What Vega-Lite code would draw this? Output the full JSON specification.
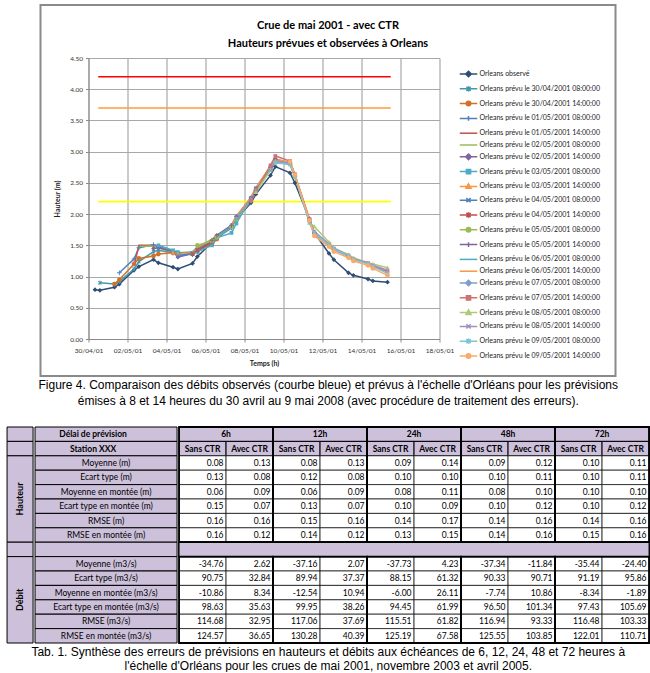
{
"$schema": "https://vega.github.io/schema/vega-lite/v6.json",
"padding": {"left": 6, "top": 4, "right": 0, "bottom": 0},
"background": "white",
"spacing": 2,
"center": true,
"config": {"view": {"stroke": null}, "font": "Lato", "locale": {"number": {"decimal": ".", "thousands": ",", "grouping": [3], "currency": ["", ""], "minus": "-"}}},
"title": {"text": ["Tab. 1. Synthèse des erreurs de prévisions en hauteurs et débits aux échéances de 6, 12, 24, 48 et 72 heures à", "l'échelle d'Orléans pour les crues de mai 2001, novembre 2003 et avril 2005."], "orient": "bottom", "anchor": "middle", "font": "Liberation Sans", "fontSize": 12, "fontWeight": "normal", "lineHeight": 14, "offset": 3, "color": "black"},
"datasets": {
"seuils": [
{"n":"4.20","t":"2001-04-30T12:00","h":4.2},{"n":"4.20","t":"2001-05-15T12:00","h":4.2},
{"n":"3.70","t":"2001-04-30T12:00","h":3.7},{"n":"3.70","t":"2001-05-15T12:00","h":3.7},
{"n":"2.20","t":"2001-04-30T12:00","h":2.2},{"n":"2.20","t":"2001-05-15T12:00","h":2.2}],
"series": [
{"s":"Orleans observé","t":"2001-04-30T08:00","h":0.79},{"s":"Orleans observé","t":"2001-04-30T14:00","h":0.78},
{"s":"Orleans observé","t":"2001-05-01T08:00","h":0.83},{"s":"Orleans observé","t":"2001-05-01T14:00","h":0.88},
{"s":"Orleans observé","t":"2001-05-02T08:00","h":1.10},{"s":"Orleans observé","t":"2001-05-02T14:00","h":1.16},
{"s":"Orleans observé","t":"2001-05-03T08:00","h":1.27},{"s":"Orleans observé","t":"2001-05-03T14:00","h":1.22},
{"s":"Orleans observé","t":"2001-05-04T08:00","h":1.15},{"s":"Orleans observé","t":"2001-05-04T14:00","h":1.12},
{"s":"Orleans observé","t":"2001-05-05T08:00","h":1.21},{"s":"Orleans observé","t":"2001-05-05T14:00","h":1.32},
{"s":"Orleans observé","t":"2001-05-06T08:00","h":1.55},{"s":"Orleans observé","t":"2001-05-06T14:00","h":1.62},
{"s":"Orleans observé","t":"2001-05-07T08:00","h":1.80},{"s":"Orleans observé","t":"2001-05-07T14:00","h":1.92},
{"s":"Orleans observé","t":"2001-05-08T08:00","h":2.18},{"s":"Orleans observé","t":"2001-05-08T14:00","h":2.32},
{"s":"Orleans observé","t":"2001-05-09T08:00","h":2.62},{"s":"Orleans observé","t":"2001-05-09T14:00","h":2.76},
{"s":"Orleans observé","t":"2001-05-10T08:00","h":2.66},{"s":"Orleans observé","t":"2001-05-10T14:00","h":2.50},
{"s":"Orleans observé","t":"2001-05-11T08:00","h":1.92},{"s":"Orleans observé","t":"2001-05-11T14:00","h":1.70},
{"s":"Orleans observé","t":"2001-05-12T08:00","h":1.37},{"s":"Orleans observé","t":"2001-05-12T14:00","h":1.27},
{"s":"Orleans observé","t":"2001-05-13T08:00","h":1.06},{"s":"Orleans observé","t":"2001-05-13T14:00","h":1.02},
{"s":"Orleans observé","t":"2001-05-14T08:00","h":0.96},{"s":"Orleans observé","t":"2001-05-14T14:00","h":0.93},
{"s":"Orleans observé","t":"2001-05-15T08:00","h":0.91},

{"s":"30/04/2001 08:00:00","t":"2001-04-30T14:00","h":0.90},{"s":"30/04/2001 08:00:00","t":"2001-05-01T08:00","h":0.88},
{"s":"30/04/2001 08:00:00","t":"2001-05-01T14:00","h":0.92},{"s":"30/04/2001 08:00:00","t":"2001-05-02T08:00","h":1.12},
{"s":"30/04/2001 08:00:00","t":"2001-05-02T14:00","h":1.24},{"s":"30/04/2001 08:00:00","t":"2001-05-03T08:00","h":1.40},
{"s":"30/04/2001 08:00:00","t":"2001-05-03T14:00","h":1.42},{"s":"30/04/2001 08:00:00","t":"2001-05-04T08:00","h":1.38},
{"s":"30/04/2001 08:00:00","t":"2001-05-04T14:00","h":1.35},{"s":"30/04/2001 08:00:00","t":"2001-05-05T08:00","h":1.37},
{"s":"30/04/2001 08:00:00","t":"2001-05-05T14:00","h":1.42},{"s":"30/04/2001 08:00:00","t":"2001-05-06T08:00","h":1.55},

{"s":"30/04/2001 14:00:00","t":"2001-05-01T08:00","h":0.88},{"s":"30/04/2001 14:00:00","t":"2001-05-01T14:00","h":0.95},
{"s":"30/04/2001 14:00:00","t":"2001-05-02T08:00","h":1.20},{"s":"30/04/2001 14:00:00","t":"2001-05-02T14:00","h":1.29},
{"s":"30/04/2001 14:00:00","t":"2001-05-03T08:00","h":1.33},{"s":"30/04/2001 14:00:00","t":"2001-05-03T14:00","h":1.36},
{"s":"30/04/2001 14:00:00","t":"2001-05-04T08:00","h":1.38},{"s":"30/04/2001 14:00:00","t":"2001-05-04T14:00","h":1.37},
{"s":"30/04/2001 14:00:00","t":"2001-05-05T08:00","h":1.36},{"s":"30/04/2001 14:00:00","t":"2001-05-05T14:00","h":1.40},
{"s":"30/04/2001 14:00:00","t":"2001-05-06T08:00","h":1.52},{"s":"30/04/2001 14:00:00","t":"2001-05-06T14:00","h":1.60},

{"s":"01/05/2001 08:00:00","t":"2001-05-01T14:00","h":1.06},{"s":"01/05/2001 08:00:00","t":"2001-05-02T08:00","h":1.28},
{"s":"01/05/2001 08:00:00","t":"2001-05-02T14:00","h":1.46},{"s":"01/05/2001 08:00:00","t":"2001-05-03T08:00","h":1.51},
{"s":"01/05/2001 08:00:00","t":"2001-05-03T14:00","h":1.48},{"s":"01/05/2001 08:00:00","t":"2001-05-04T08:00","h":1.40},
{"s":"01/05/2001 08:00:00","t":"2001-05-04T14:00","h":1.38},{"s":"01/05/2001 08:00:00","t":"2001-05-05T08:00","h":1.35},
{"s":"01/05/2001 08:00:00","t":"2001-05-05T14:00","h":1.42},{"s":"01/05/2001 08:00:00","t":"2001-05-06T08:00","h":1.55},
{"s":"01/05/2001 08:00:00","t":"2001-05-06T14:00","h":1.62},{"s":"01/05/2001 08:00:00","t":"2001-05-07T08:00","h":1.78},

{"s":"01/05/2001 14:00:00","t":"2001-05-02T08:00","h":1.17},{"s":"01/05/2001 14:00:00","t":"2001-05-02T14:00","h":1.50},
{"s":"01/05/2001 14:00:00","t":"2001-05-03T08:00","h":1.50},{"s":"01/05/2001 14:00:00","t":"2001-05-03T14:00","h":1.47},
{"s":"01/05/2001 14:00:00","t":"2001-05-04T08:00","h":1.40},{"s":"01/05/2001 14:00:00","t":"2001-05-04T14:00","h":1.37},
{"s":"01/05/2001 14:00:00","t":"2001-05-05T08:00","h":1.38},{"s":"01/05/2001 14:00:00","t":"2001-05-05T14:00","h":1.45},
{"s":"01/05/2001 14:00:00","t":"2001-05-06T08:00","h":1.58},{"s":"01/05/2001 14:00:00","t":"2001-05-06T14:00","h":1.65},
{"s":"01/05/2001 14:00:00","t":"2001-05-07T08:00","h":1.80},{"s":"01/05/2001 14:00:00","t":"2001-05-07T14:00","h":1.92},

{"s":"02/05/2001 08:00:00","t":"2001-05-02T14:00","h":1.48},{"s":"02/05/2001 08:00:00","t":"2001-05-03T08:00","h":1.49},
{"s":"02/05/2001 08:00:00","t":"2001-05-03T14:00","h":1.46},{"s":"02/05/2001 08:00:00","t":"2001-05-04T08:00","h":1.39},
{"s":"02/05/2001 08:00:00","t":"2001-05-04T14:00","h":1.37},{"s":"02/05/2001 08:00:00","t":"2001-05-05T08:00","h":1.40},
{"s":"02/05/2001 08:00:00","t":"2001-05-05T14:00","h":1.47},{"s":"02/05/2001 08:00:00","t":"2001-05-06T08:00","h":1.60},
{"s":"02/05/2001 08:00:00","t":"2001-05-06T14:00","h":1.66},{"s":"02/05/2001 08:00:00","t":"2001-05-07T08:00","h":1.82},
{"s":"02/05/2001 08:00:00","t":"2001-05-07T14:00","h":1.95},{"s":"02/05/2001 08:00:00","t":"2001-05-08T08:00","h":2.22},

{"s":"02/05/2001 14:00:00","t":"2001-05-03T08:00","h":1.45},{"s":"02/05/2001 14:00:00","t":"2001-05-03T14:00","h":1.46},
{"s":"02/05/2001 14:00:00","t":"2001-05-04T08:00","h":1.40},{"s":"02/05/2001 14:00:00","t":"2001-05-04T14:00","h":1.31},
{"s":"02/05/2001 14:00:00","t":"2001-05-05T08:00","h":1.37},{"s":"02/05/2001 14:00:00","t":"2001-05-05T14:00","h":1.45},
{"s":"02/05/2001 14:00:00","t":"2001-05-06T08:00","h":1.57},{"s":"02/05/2001 14:00:00","t":"2001-05-06T14:00","h":1.64},
{"s":"02/05/2001 14:00:00","t":"2001-05-07T08:00","h":1.80},{"s":"02/05/2001 14:00:00","t":"2001-05-07T14:00","h":1.93},
{"s":"02/05/2001 14:00:00","t":"2001-05-08T08:00","h":2.20},{"s":"02/05/2001 14:00:00","t":"2001-05-08T14:00","h":2.35},

{"s":"03/05/2001 08:00:00","t":"2001-05-03T14:00","h":1.50},{"s":"03/05/2001 08:00:00","t":"2001-05-04T08:00","h":1.42},
{"s":"03/05/2001 08:00:00","t":"2001-05-04T14:00","h":1.39},{"s":"03/05/2001 08:00:00","t":"2001-05-05T08:00","h":1.38},
{"s":"03/05/2001 08:00:00","t":"2001-05-05T14:00","h":1.40},{"s":"03/05/2001 08:00:00","t":"2001-05-06T08:00","h":1.50},
{"s":"03/05/2001 08:00:00","t":"2001-05-06T14:00","h":1.62},{"s":"03/05/2001 08:00:00","t":"2001-05-07T08:00","h":1.70},
{"s":"03/05/2001 08:00:00","t":"2001-05-07T14:00","h":1.85},{"s":"03/05/2001 08:00:00","t":"2001-05-08T08:00","h":2.25},
{"s":"03/05/2001 08:00:00","t":"2001-05-08T14:00","h":2.40},{"s":"03/05/2001 08:00:00","t":"2001-05-09T08:00","h":2.72},

{"s":"03/05/2001 14:00:00","t":"2001-05-04T08:00","h":1.38},{"s":"03/05/2001 14:00:00","t":"2001-05-04T14:00","h":1.36},
{"s":"03/05/2001 14:00:00","t":"2001-05-05T08:00","h":1.38},{"s":"03/05/2001 14:00:00","t":"2001-05-05T14:00","h":1.45},
{"s":"03/05/2001 14:00:00","t":"2001-05-06T08:00","h":1.58},{"s":"03/05/2001 14:00:00","t":"2001-05-06T14:00","h":1.65},
{"s":"03/05/2001 14:00:00","t":"2001-05-07T08:00","h":1.80},{"s":"03/05/2001 14:00:00","t":"2001-05-07T14:00","h":1.95},
{"s":"03/05/2001 14:00:00","t":"2001-05-08T08:00","h":2.25},{"s":"03/05/2001 14:00:00","t":"2001-05-08T14:00","h":2.40},
{"s":"03/05/2001 14:00:00","t":"2001-05-09T08:00","h":2.75},{"s":"03/05/2001 14:00:00","t":"2001-05-09T14:00","h":2.86},

{"s":"04/05/2001 08:00:00","t":"2001-05-04T14:00","h":1.33},{"s":"04/05/2001 08:00:00","t":"2001-05-05T08:00","h":1.37},
{"s":"04/05/2001 08:00:00","t":"2001-05-05T14:00","h":1.43},{"s":"04/05/2001 08:00:00","t":"2001-05-06T08:00","h":1.57},
{"s":"04/05/2001 08:00:00","t":"2001-05-06T14:00","h":1.64},{"s":"04/05/2001 08:00:00","t":"2001-05-07T08:00","h":1.82},
{"s":"04/05/2001 08:00:00","t":"2001-05-07T14:00","h":1.96},{"s":"04/05/2001 08:00:00","t":"2001-05-08T08:00","h":2.26},
{"s":"04/05/2001 08:00:00","t":"2001-05-08T14:00","h":2.42},{"s":"04/05/2001 08:00:00","t":"2001-05-09T08:00","h":2.76},
{"s":"04/05/2001 08:00:00","t":"2001-05-09T14:00","h":2.84},{"s":"04/05/2001 08:00:00","t":"2001-05-10T08:00","h":2.80},

{"s":"04/05/2001 14:00:00","t":"2001-05-05T08:00","h":1.36},{"s":"04/05/2001 14:00:00","t":"2001-05-05T14:00","h":1.42},
{"s":"04/05/2001 14:00:00","t":"2001-05-06T08:00","h":1.55},{"s":"04/05/2001 14:00:00","t":"2001-05-06T14:00","h":1.65},
{"s":"04/05/2001 14:00:00","t":"2001-05-07T08:00","h":1.80},{"s":"04/05/2001 14:00:00","t":"2001-05-07T14:00","h":1.94},
{"s":"04/05/2001 14:00:00","t":"2001-05-08T08:00","h":2.24},{"s":"04/05/2001 14:00:00","t":"2001-05-08T14:00","h":2.40},
{"s":"04/05/2001 14:00:00","t":"2001-05-09T08:00","h":2.74},{"s":"04/05/2001 14:00:00","t":"2001-05-09T14:00","h":2.87},
{"s":"04/05/2001 14:00:00","t":"2001-05-10T08:00","h":2.82},{"s":"04/05/2001 14:00:00","t":"2001-05-10T14:00","h":2.62},

{"s":"05/05/2001 08:00:00","t":"2001-05-05T14:00","h":1.50},{"s":"05/05/2001 08:00:00","t":"2001-05-06T08:00","h":1.57},
{"s":"05/05/2001 08:00:00","t":"2001-05-06T14:00","h":1.63},{"s":"05/05/2001 08:00:00","t":"2001-05-07T08:00","h":1.80},
{"s":"05/05/2001 08:00:00","t":"2001-05-07T14:00","h":1.92},{"s":"05/05/2001 08:00:00","t":"2001-05-08T08:00","h":2.22},
{"s":"05/05/2001 08:00:00","t":"2001-05-08T14:00","h":2.38},{"s":"05/05/2001 08:00:00","t":"2001-05-09T08:00","h":2.73},
{"s":"05/05/2001 08:00:00","t":"2001-05-09T14:00","h":2.85},{"s":"05/05/2001 08:00:00","t":"2001-05-10T08:00","h":2.80},
{"s":"05/05/2001 08:00:00","t":"2001-05-10T14:00","h":2.60},{"s":"05/05/2001 08:00:00","t":"2001-05-11T08:00","h":1.90},

{"s":"05/05/2001 14:00:00","t":"2001-05-06T08:00","h":1.58},{"s":"05/05/2001 14:00:00","t":"2001-05-06T14:00","h":1.66},
{"s":"05/05/2001 14:00:00","t":"2001-05-07T08:00","h":1.82},{"s":"05/05/2001 14:00:00","t":"2001-05-07T14:00","h":1.96},
{"s":"05/05/2001 14:00:00","t":"2001-05-08T08:00","h":2.26},{"s":"05/05/2001 14:00:00","t":"2001-05-08T14:00","h":2.40},
{"s":"05/05/2001 14:00:00","t":"2001-05-09T08:00","h":2.75},{"s":"05/05/2001 14:00:00","t":"2001-05-09T14:00","h":2.88},
{"s":"05/05/2001 14:00:00","t":"2001-05-10T08:00","h":2.82},{"s":"05/05/2001 14:00:00","t":"2001-05-10T14:00","h":2.62},
{"s":"05/05/2001 14:00:00","t":"2001-05-11T08:00","h":1.90},{"s":"05/05/2001 14:00:00","t":"2001-05-11T14:00","h":1.70},

{"s":"06/05/2001 08:00:00","t":"2001-05-06T14:00","h":1.65},{"s":"06/05/2001 08:00:00","t":"2001-05-07T08:00","h":1.80},
{"s":"06/05/2001 08:00:00","t":"2001-05-07T14:00","h":1.94},{"s":"06/05/2001 08:00:00","t":"2001-05-08T08:00","h":2.25},
{"s":"06/05/2001 08:00:00","t":"2001-05-08T14:00","h":2.40},{"s":"06/05/2001 08:00:00","t":"2001-05-09T08:00","h":2.74},
{"s":"06/05/2001 08:00:00","t":"2001-05-09T14:00","h":2.86},{"s":"06/05/2001 08:00:00","t":"2001-05-10T08:00","h":2.82},
{"s":"06/05/2001 08:00:00","t":"2001-05-10T14:00","h":2.63},{"s":"06/05/2001 08:00:00","t":"2001-05-11T08:00","h":1.88},
{"s":"06/05/2001 08:00:00","t":"2001-05-11T14:00","h":1.68},{"s":"06/05/2001 08:00:00","t":"2001-05-12T08:00","h":1.50},

{"s":"06/05/2001 14:00:00","t":"2001-05-07T08:00","h":1.82},{"s":"06/05/2001 14:00:00","t":"2001-05-07T14:00","h":1.97},
{"s":"06/05/2001 14:00:00","t":"2001-05-08T08:00","h":2.27},{"s":"06/05/2001 14:00:00","t":"2001-05-08T14:00","h":2.42},
{"s":"06/05/2001 14:00:00","t":"2001-05-09T08:00","h":2.77},{"s":"06/05/2001 14:00:00","t":"2001-05-09T14:00","h":2.88},
{"s":"06/05/2001 14:00:00","t":"2001-05-10T08:00","h":2.83},{"s":"06/05/2001 14:00:00","t":"2001-05-10T14:00","h":2.62},
{"s":"06/05/2001 14:00:00","t":"2001-05-11T08:00","h":1.92},{"s":"06/05/2001 14:00:00","t":"2001-05-11T14:00","h":1.66},
{"s":"06/05/2001 14:00:00","t":"2001-05-12T08:00","h":1.48},{"s":"06/05/2001 14:00:00","t":"2001-05-12T14:00","h":1.40},

{"s":"07/05/2001 08:00:00","t":"2001-05-07T14:00","h":1.93},{"s":"07/05/2001 08:00:00","t":"2001-05-08T08:00","h":2.24},
{"s":"07/05/2001 08:00:00","t":"2001-05-08T14:00","h":2.38},{"s":"07/05/2001 08:00:00","t":"2001-05-09T08:00","h":2.72},
{"s":"07/05/2001 08:00:00","t":"2001-05-09T14:00","h":2.84},{"s":"07/05/2001 08:00:00","t":"2001-05-10T08:00","h":2.80},
{"s":"07/05/2001 08:00:00","t":"2001-05-10T14:00","h":2.60},{"s":"07/05/2001 08:00:00","t":"2001-05-11T08:00","h":1.88},
{"s":"07/05/2001 08:00:00","t":"2001-05-11T14:00","h":1.70},{"s":"07/05/2001 08:00:00","t":"2001-05-12T08:00","h":1.50},
{"s":"07/05/2001 08:00:00","t":"2001-05-12T14:00","h":1.43},{"s":"07/05/2001 08:00:00","t":"2001-05-13T08:00","h":1.32},

{"s":"07/05/2001 14:00:00","t":"2001-05-08T08:00","h":2.22},{"s":"07/05/2001 14:00:00","t":"2001-05-08T14:00","h":2.36},
{"s":"07/05/2001 14:00:00","t":"2001-05-09T08:00","h":2.78},{"s":"07/05/2001 14:00:00","t":"2001-05-09T14:00","h":2.93},
{"s":"07/05/2001 14:00:00","t":"2001-05-10T08:00","h":2.85},{"s":"07/05/2001 14:00:00","t":"2001-05-10T14:00","h":2.64},
{"s":"07/05/2001 14:00:00","t":"2001-05-11T08:00","h":1.92},{"s":"07/05/2001 14:00:00","t":"2001-05-11T14:00","h":1.70},
{"s":"07/05/2001 14:00:00","t":"2001-05-12T08:00","h":1.52},{"s":"07/05/2001 14:00:00","t":"2001-05-12T14:00","h":1.44},
{"s":"07/05/2001 14:00:00","t":"2001-05-13T08:00","h":1.33},{"s":"07/05/2001 14:00:00","t":"2001-05-13T14:00","h":1.28},
{"s":"07/05/2001 14:00:00","t":"2001-05-14T08:00","h":1.21},{"s":"07/05/2001 14:00:00","t":"2001-05-14T14:00","h":1.16},
{"s":"07/05/2001 14:00:00","t":"2001-05-15T08:00","h":1.08},

{"s":"08/05/2001 08:00:00","t":"2001-05-08T14:00","h":2.35},{"s":"08/05/2001 08:00:00","t":"2001-05-09T08:00","h":2.70},
{"s":"08/05/2001 08:00:00","t":"2001-05-09T14:00","h":2.85},{"s":"08/05/2001 08:00:00","t":"2001-05-10T08:00","h":2.80},
{"s":"08/05/2001 08:00:00","t":"2001-05-10T14:00","h":2.60},{"s":"08/05/2001 08:00:00","t":"2001-05-11T08:00","h":1.86},
{"s":"08/05/2001 08:00:00","t":"2001-05-11T14:00","h":1.80},{"s":"08/05/2001 08:00:00","t":"2001-05-12T08:00","h":1.55},
{"s":"08/05/2001 08:00:00","t":"2001-05-12T14:00","h":1.46},{"s":"08/05/2001 08:00:00","t":"2001-05-13T08:00","h":1.35},
{"s":"08/05/2001 08:00:00","t":"2001-05-13T14:00","h":1.30},{"s":"08/05/2001 08:00:00","t":"2001-05-14T08:00","h":1.22},
{"s":"08/05/2001 08:00:00","t":"2001-05-14T14:00","h":1.20},{"s":"08/05/2001 08:00:00","t":"2001-05-15T08:00","h":1.14},

{"s":"08/05/2001 14:00:00","t":"2001-05-09T08:00","h":2.70},{"s":"08/05/2001 14:00:00","t":"2001-05-09T14:00","h":2.84},
{"s":"08/05/2001 14:00:00","t":"2001-05-10T08:00","h":2.82},{"s":"08/05/2001 14:00:00","t":"2001-05-10T14:00","h":2.62},
{"s":"08/05/2001 14:00:00","t":"2001-05-11T08:00","h":1.88},{"s":"08/05/2001 14:00:00","t":"2001-05-11T14:00","h":1.72},
{"s":"08/05/2001 14:00:00","t":"2001-05-12T08:00","h":1.52},{"s":"08/05/2001 14:00:00","t":"2001-05-12T14:00","h":1.45},
{"s":"08/05/2001 14:00:00","t":"2001-05-13T08:00","h":1.34},{"s":"08/05/2001 14:00:00","t":"2001-05-13T14:00","h":1.28},
{"s":"08/05/2001 14:00:00","t":"2001-05-14T08:00","h":1.22},{"s":"08/05/2001 14:00:00","t":"2001-05-14T14:00","h":1.18},
{"s":"08/05/2001 14:00:00","t":"2001-05-15T08:00","h":1.10},

{"s":"09/05/2001 08:00:00","t":"2001-05-09T14:00","h":2.82},{"s":"09/05/2001 08:00:00","t":"2001-05-10T08:00","h":2.80},
{"s":"09/05/2001 08:00:00","t":"2001-05-10T14:00","h":2.62},{"s":"09/05/2001 08:00:00","t":"2001-05-11T08:00","h":1.86},
{"s":"09/05/2001 08:00:00","t":"2001-05-11T14:00","h":1.70},{"s":"09/05/2001 08:00:00","t":"2001-05-12T08:00","h":1.50},
{"s":"09/05/2001 08:00:00","t":"2001-05-12T14:00","h":1.44},{"s":"09/05/2001 08:00:00","t":"2001-05-13T08:00","h":1.33},
{"s":"09/05/2001 08:00:00","t":"2001-05-13T14:00","h":1.27},{"s":"09/05/2001 08:00:00","t":"2001-05-14T08:00","h":1.20},
{"s":"09/05/2001 08:00:00","t":"2001-05-14T14:00","h":1.16},{"s":"09/05/2001 08:00:00","t":"2001-05-15T08:00","h":1.05},

{"s":"09/05/2001 14:00:00","t":"2001-05-10T08:00","h":2.84},{"s":"09/05/2001 14:00:00","t":"2001-05-10T14:00","h":2.63},
{"s":"09/05/2001 14:00:00","t":"2001-05-11T08:00","h":1.90},{"s":"09/05/2001 14:00:00","t":"2001-05-11T14:00","h":1.65},
{"s":"09/05/2001 14:00:00","t":"2001-05-12T08:00","h":1.48},{"s":"09/05/2001 14:00:00","t":"2001-05-12T14:00","h":1.40},
{"s":"09/05/2001 14:00:00","t":"2001-05-13T08:00","h":1.30},{"s":"09/05/2001 14:00:00","t":"2001-05-13T14:00","h":1.25},
{"s":"09/05/2001 14:00:00","t":"2001-05-14T08:00","h":1.18},{"s":"09/05/2001 14:00:00","t":"2001-05-14T14:00","h":1.13},
{"s":"09/05/2001 14:00:00","t":"2001-05-15T08:00","h":1.02}
],
"gcells": [
{"r0":"Délai de prévision","r1":"Délai de prévision"},
{"r0":"Station XXX","r1":"Station XXX"},
{"r0":"Moyenne (m)","r1":"RMSE en montée (m)","g":"Hauteur","m":"Ecart type en montée (m)"},
{"r0":"sep","r1":"sep"},
{"r0":"Moyenne (m3/s)","r1":"RMSE en montée (m3/s)","g":"Débit","m":"Ecart type en montée (m3/s)"}],
"scells": [
{"r":"Délai de prévision","k":"head"},{"r":"Station XXX","k":"head"},
{"r":"Moyenne (m)","k":"stat"},{"r":"Ecart type (m)","k":"stat"},{"r":"Moyenne en montée (m)","k":"stat"},
{"r":"Ecart type en montée (m)","k":"stat"},{"r":"RMSE (m)","k":"stat"},{"r":"RMSE en montée (m)","k":"stat"},
{"r":"sep","k":"sep"},
{"r":"Moyenne (m3/s)","k":"stat"},{"r":"Ecart type (m3/s)","k":"stat"},{"r":"Moyenne en montée (m3/s)","k":"stat"},
{"r":"Ecart type en montée (m3/s)","k":"stat"},{"r":"RMSE (m3/s)","k":"stat"},{"r":"RMSE en montée (m3/s)","k":"stat"}],
"delais": [{"d":"6h"},{"d":"12h"},{"d":"24h"},{"d":"48h"},{"d":"72h"}],
"ctrs": [
{"d":"6h","c":"S","lab":"Sans CTR"},{"d":"6h","c":"A","lab":"Avec CTR"},
{"d":"12h","c":"S","lab":"Sans CTR"},{"d":"12h","c":"A","lab":"Avec CTR"},
{"d":"24h","c":"S","lab":"Sans CTR"},{"d":"24h","c":"A","lab":"Avec CTR"},
{"d":"48h","c":"S","lab":"Sans CTR"},{"d":"48h","c":"A","lab":"Avec CTR"},
{"d":"72h","c":"S","lab":"Sans CTR"},{"d":"72h","c":"A","lab":"Avec CTR"}],
"vals": [
{"r":"Moyenne (m)","d":"6h","c":"S","v":0.08},{"r":"Moyenne (m)","d":"6h","c":"A","v":0.13},
{"r":"Moyenne (m)","d":"12h","c":"S","v":0.08},{"r":"Moyenne (m)","d":"12h","c":"A","v":0.13},
{"r":"Moyenne (m)","d":"24h","c":"S","v":0.09},{"r":"Moyenne (m)","d":"24h","c":"A","v":0.14},
{"r":"Moyenne (m)","d":"48h","c":"S","v":0.09},{"r":"Moyenne (m)","d":"48h","c":"A","v":0.12},
{"r":"Moyenne (m)","d":"72h","c":"S","v":0.10},{"r":"Moyenne (m)","d":"72h","c":"A","v":0.11},
{"r":"Ecart type (m)","d":"6h","c":"S","v":0.13},{"r":"Ecart type (m)","d":"6h","c":"A","v":0.08},
{"r":"Ecart type (m)","d":"12h","c":"S","v":0.12},{"r":"Ecart type (m)","d":"12h","c":"A","v":0.08},
{"r":"Ecart type (m)","d":"24h","c":"S","v":0.10},{"r":"Ecart type (m)","d":"24h","c":"A","v":0.10},
{"r":"Ecart type (m)","d":"48h","c":"S","v":0.10},{"r":"Ecart type (m)","d":"48h","c":"A","v":0.11},
{"r":"Ecart type (m)","d":"72h","c":"S","v":0.10},{"r":"Ecart type (m)","d":"72h","c":"A","v":0.11},
{"r":"Moyenne en montée (m)","d":"6h","c":"S","v":0.06},{"r":"Moyenne en montée (m)","d":"6h","c":"A","v":0.09},
{"r":"Moyenne en montée (m)","d":"12h","c":"S","v":0.06},{"r":"Moyenne en montée (m)","d":"12h","c":"A","v":0.09},
{"r":"Moyenne en montée (m)","d":"24h","c":"S","v":0.08},{"r":"Moyenne en montée (m)","d":"24h","c":"A","v":0.11},
{"r":"Moyenne en montée (m)","d":"48h","c":"S","v":0.08},{"r":"Moyenne en montée (m)","d":"48h","c":"A","v":0.10},
{"r":"Moyenne en montée (m)","d":"72h","c":"S","v":0.10},{"r":"Moyenne en montée (m)","d":"72h","c":"A","v":0.10},
{"r":"Ecart type en montée (m)","d":"6h","c":"S","v":0.15},{"r":"Ecart type en montée (m)","d":"6h","c":"A","v":0.07},
{"r":"Ecart type en montée (m)","d":"12h","c":"S","v":0.13},{"r":"Ecart type en montée (m)","d":"12h","c":"A","v":0.07},
{"r":"Ecart type en montée (m)","d":"24h","c":"S","v":0.10},{"r":"Ecart type en montée (m)","d":"24h","c":"A","v":0.09},
{"r":"Ecart type en montée (m)","d":"48h","c":"S","v":0.10},{"r":"Ecart type en montée (m)","d":"48h","c":"A","v":0.12},
{"r":"Ecart type en montée (m)","d":"72h","c":"S","v":0.10},{"r":"Ecart type en montée (m)","d":"72h","c":"A","v":0.12},
{"r":"RMSE (m)","d":"6h","c":"S","v":0.16},{"r":"RMSE (m)","d":"6h","c":"A","v":0.16},
{"r":"RMSE (m)","d":"12h","c":"S","v":0.15},{"r":"RMSE (m)","d":"12h","c":"A","v":0.16},
{"r":"RMSE (m)","d":"24h","c":"S","v":0.14},{"r":"RMSE (m)","d":"24h","c":"A","v":0.17},
{"r":"RMSE (m)","d":"48h","c":"S","v":0.14},{"r":"RMSE (m)","d":"48h","c":"A","v":0.16},
{"r":"RMSE (m)","d":"72h","c":"S","v":0.14},{"r":"RMSE (m)","d":"72h","c":"A","v":0.16},
{"r":"RMSE en montée (m)","d":"6h","c":"S","v":0.16},{"r":"RMSE en montée (m)","d":"6h","c":"A","v":0.12},
{"r":"RMSE en montée (m)","d":"12h","c":"S","v":0.14},{"r":"RMSE en montée (m)","d":"12h","c":"A","v":0.12},
{"r":"RMSE en montée (m)","d":"24h","c":"S","v":0.13},{"r":"RMSE en montée (m)","d":"24h","c":"A","v":0.15},
{"r":"RMSE en montée (m)","d":"48h","c":"S","v":0.14},{"r":"RMSE en montée (m)","d":"48h","c":"A","v":0.16},
{"r":"RMSE en montée (m)","d":"72h","c":"S","v":0.15},{"r":"RMSE en montée (m)","d":"72h","c":"A","v":0.16},
{"r":"Moyenne (m3/s)","d":"6h","c":"S","v":-34.76},{"r":"Moyenne (m3/s)","d":"6h","c":"A","v":2.62},
{"r":"Moyenne (m3/s)","d":"12h","c":"S","v":-37.16},{"r":"Moyenne (m3/s)","d":"12h","c":"A","v":2.07},
{"r":"Moyenne (m3/s)","d":"24h","c":"S","v":-37.73},{"r":"Moyenne (m3/s)","d":"24h","c":"A","v":4.23},
{"r":"Moyenne (m3/s)","d":"48h","c":"S","v":-37.34},{"r":"Moyenne (m3/s)","d":"48h","c":"A","v":-11.84},
{"r":"Moyenne (m3/s)","d":"72h","c":"S","v":-35.44},{"r":"Moyenne (m3/s)","d":"72h","c":"A","v":-24.40},
{"r":"Ecart type (m3/s)","d":"6h","c":"S","v":90.75},{"r":"Ecart type (m3/s)","d":"6h","c":"A","v":32.84},
{"r":"Ecart type (m3/s)","d":"12h","c":"S","v":89.94},{"r":"Ecart type (m3/s)","d":"12h","c":"A","v":37.37},
{"r":"Ecart type (m3/s)","d":"24h","c":"S","v":88.15},{"r":"Ecart type (m3/s)","d":"24h","c":"A","v":61.32},
{"r":"Ecart type (m3/s)","d":"48h","c":"S","v":90.33},{"r":"Ecart type (m3/s)","d":"48h","c":"A","v":90.71},
{"r":"Ecart type (m3/s)","d":"72h","c":"S","v":91.19},{"r":"Ecart type (m3/s)","d":"72h","c":"A","v":95.86},
{"r":"Moyenne en montée (m3/s)","d":"6h","c":"S","v":-10.86},{"r":"Moyenne en montée (m3/s)","d":"6h","c":"A","v":8.34},
{"r":"Moyenne en montée (m3/s)","d":"12h","c":"S","v":-12.54},{"r":"Moyenne en montée (m3/s)","d":"12h","c":"A","v":10.94},
{"r":"Moyenne en montée (m3/s)","d":"24h","c":"S","v":-6.00},{"r":"Moyenne en montée (m3/s)","d":"24h","c":"A","v":26.11},
{"r":"Moyenne en montée (m3/s)","d":"48h","c":"S","v":-7.74},{"r":"Moyenne en montée (m3/s)","d":"48h","c":"A","v":10.86},
{"r":"Moyenne en montée (m3/s)","d":"72h","c":"S","v":-8.34},{"r":"Moyenne en montée (m3/s)","d":"72h","c":"A","v":-1.89},
{"r":"Ecart type en montée (m3/s)","d":"6h","c":"S","v":98.63},{"r":"Ecart type en montée (m3/s)","d":"6h","c":"A","v":35.63},
{"r":"Ecart type en montée (m3/s)","d":"12h","c":"S","v":99.95},{"r":"Ecart type en montée (m3/s)","d":"12h","c":"A","v":38.26},
{"r":"Ecart type en montée (m3/s)","d":"24h","c":"S","v":94.45},{"r":"Ecart type en montée (m3/s)","d":"24h","c":"A","v":61.99},
{"r":"Ecart type en montée (m3/s)","d":"48h","c":"S","v":96.50},{"r":"Ecart type en montée (m3/s)","d":"48h","c":"A","v":101.34},
{"r":"Ecart type en montée (m3/s)","d":"72h","c":"S","v":97.43},{"r":"Ecart type en montée (m3/s)","d":"72h","c":"A","v":105.69},
{"r":"RMSE (m3/s)","d":"6h","c":"S","v":114.68},{"r":"RMSE (m3/s)","d":"6h","c":"A","v":32.95},
{"r":"RMSE (m3/s)","d":"12h","c":"S","v":117.06},{"r":"RMSE (m3/s)","d":"12h","c":"A","v":37.69},
{"r":"RMSE (m3/s)","d":"24h","c":"S","v":115.51},{"r":"RMSE (m3/s)","d":"24h","c":"A","v":61.82},
{"r":"RMSE (m3/s)","d":"48h","c":"S","v":116.94},{"r":"RMSE (m3/s)","d":"48h","c":"A","v":93.33},
{"r":"RMSE (m3/s)","d":"72h","c":"S","v":116.48},{"r":"RMSE (m3/s)","d":"72h","c":"A","v":103.33},
{"r":"RMSE en montée (m3/s)","d":"6h","c":"S","v":124.57},{"r":"RMSE en montée (m3/s)","d":"6h","c":"A","v":36.65},
{"r":"RMSE en montée (m3/s)","d":"12h","c":"S","v":130.28},{"r":"RMSE en montée (m3/s)","d":"12h","c":"A","v":40.39},
{"r":"RMSE en montée (m3/s)","d":"24h","c":"S","v":125.19},{"r":"RMSE en montée (m3/s)","d":"24h","c":"A","v":67.58},
{"r":"RMSE en montée (m3/s)","d":"48h","c":"S","v":125.55},{"r":"RMSE en montée (m3/s)","d":"48h","c":"A","v":103.85},
{"r":"RMSE en montée (m3/s)","d":"72h","c":"S","v":122.01},{"r":"RMSE en montée (m3/s)","d":"72h","c":"A","v":110.71}]
},
"vconcat": [
{
"width": 575, "height": 371,
"view": {"stroke": "#8a8a8a", "strokeWidth": 2},
"title": {"text": ["Crue de mai 2001 - avec CTR", "Hauteurs prévues et observées à Orleans"], "offset": -44, "fontSize": 11, "font": "Lato", "fontWeight": "bold", "lineHeight": 18, "anchor": "middle", "frame": "group", "color": "black"},
"resolve": {"scale": {"color": "independent", "shape": "independent", "fill": "independent", "stroke": "independent"}, "axis": {"x": "independent"}},
"layer": [
{"data": {"name": "seuils"}, "mark": {"type": "line", "strokeWidth": 1.6},
 "encoding": {
  "x": {"field": "t", "type": "temporal",
   "scale": {"domain": [{"year":2001,"month":"apr","date":30},{"year":2001,"month":"may","date":18}], "range": [48, 399]},
   "axis": {"orient": "bottom", "offset": -37, "grid": false, "format": "%d/%m/%y",
    "values": [{"year":2001,"month":"apr","date":30},{"year":2001,"month":"may","date":2},{"year":2001,"month":"may","date":4},{"year":2001,"month":"may","date":6},{"year":2001,"month":"may","date":8},{"year":2001,"month":"may","date":10},{"year":2001,"month":"may","date":12},{"year":2001,"month":"may","date":14},{"year":2001,"month":"may","date":16},{"year":2001,"month":"may","date":18}],
    "domainColor": "#8a8a8a", "tickColor": "#8a8a8a", "tickSize": 3, "labelFontSize": 6.5, "labelColor": "#333", "labelPadding": 5, "labelFlush": false, "labelFont": "Lato",
    "title": "Temps (h)", "titleFontSize": 7, "titleFontWeight": "bold", "titleColor": "#222", "titlePadding": 6, "titleFont": "Lato"}},
  "y": {"field": "h", "type": "quantitative",
   "scale": {"domain": [0, 4.5], "range": [334, 53], "nice": false, "zero": false},
   "axis": {"offset": -48, "values": [0,0.5,1,1.5,2,2.5,3,3.5,4,4.5], "format": ".2f", "grid": true, "gridColor": "#a8a8a8", "gridWidth": 1.2,
    "domainColor": "#8a8a8a", "tickColor": "#8a8a8a", "tickSize": 3, "labelFontSize": 6.5, "labelColor": "#333", "labelPadding": 3, "labelFont": "Lato",
    "title": "Hauteur (m)", "titleFontSize": 7, "titleFontWeight": "bold", "titleColor": "#222", "titlePadding": 9, "titleFont": "Lato"}},
  "color": {"field": "n", "type": "nominal", "scale": {"domain": ["4.20","3.70","2.20"], "range": ["#FF0000","#FF9B3D","#FFFF00"]}, "legend": null}
 }},
{"data": {"name": "series"}, "mark": {"type": "line", "strokeWidth": 1.5},
 "encoding": {
  "x": {"field": "t", "type": "temporal",
   "axis": {"orient": "top", "grid": true, "gridColor": "#a8a8a8", "gridWidth": 1.2, "labels": false, "ticks": false, "domain": false, "title": null,
    "values": [{"year":2001,"month":"apr","date":30},{"year":2001,"month":"may","date":2},{"year":2001,"month":"may","date":4},{"year":2001,"month":"may","date":6},{"year":2001,"month":"may","date":8},{"year":2001,"month":"may","date":10},{"year":2001,"month":"may","date":12},{"year":2001,"month":"may","date":14},{"year":2001,"month":"may","date":16},{"year":2001,"month":"may","date":18}]}},
  "y": {"field": "h", "type": "quantitative"},
  "color": {"field": "s", "type": "nominal", "legend": null,
   "scale": {"domain": ["Orleans observé","30/04/2001 08:00:00","30/04/2001 14:00:00","01/05/2001 08:00:00","01/05/2001 14:00:00","02/05/2001 08:00:00","02/05/2001 14:00:00","03/05/2001 08:00:00","03/05/2001 14:00:00","04/05/2001 08:00:00","04/05/2001 14:00:00","05/05/2001 08:00:00","05/05/2001 14:00:00","06/05/2001 08:00:00","06/05/2001 14:00:00","07/05/2001 08:00:00","07/05/2001 14:00:00","08/05/2001 08:00:00","08/05/2001 14:00:00","09/05/2001 08:00:00","09/05/2001 14:00:00"],
    "range": ["#2C4D75","#4198AF","#D0712A","#4F81BD","#C0504D","#9BBB59","#8064A2","#4BACC6","#F79646","#4F81BD","#C0504D","#9BBB59","#8064A2","#4BACC6","#F79646","#7E9ECF","#CD7371","#AFC97A","#A18FC2","#7CC4D8","#F9AB6B"]}}
 }},
{"data": {"name": "series"}, "mark": {"type": "point", "filled": true, "size": 22, "opacity": 1, "strokeWidth": 0},
 "encoding": {
  "x": {"field": "t", "type": "temporal", "axis": null},
  "y": {"field": "h", "type": "quantitative"},
  "color": {"field": "s", "type": "nominal", "legend": null,
   "scale": {"domain": ["Orleans observé","30/04/2001 08:00:00","30/04/2001 14:00:00","01/05/2001 08:00:00","01/05/2001 14:00:00","02/05/2001 08:00:00","02/05/2001 14:00:00","03/05/2001 08:00:00","03/05/2001 14:00:00","04/05/2001 08:00:00","04/05/2001 14:00:00","05/05/2001 08:00:00","05/05/2001 14:00:00","06/05/2001 08:00:00","06/05/2001 14:00:00","07/05/2001 08:00:00","07/05/2001 14:00:00","08/05/2001 08:00:00","08/05/2001 14:00:00","09/05/2001 08:00:00","09/05/2001 14:00:00"],
    "range": ["#2C4D75","#4198AF","#D0712A","#4F81BD","#C0504D","#9BBB59","#8064A2","#4BACC6","#F79646","#4F81BD","#C0504D","#9BBB59","#8064A2","#4BACC6","#F79646","#7E9ECF","#CD7371","#AFC97A","#A18FC2","#7CC4D8","#F9AB6B"]}},
  "shape": {"field": "s", "type": "nominal", "legend": null,
   "scale": {"domain": ["Orleans observé","30/04/2001 08:00:00","30/04/2001 14:00:00","01/05/2001 08:00:00","01/05/2001 14:00:00","02/05/2001 08:00:00","02/05/2001 14:00:00","03/05/2001 08:00:00","03/05/2001 14:00:00","04/05/2001 08:00:00","04/05/2001 14:00:00","05/05/2001 08:00:00","05/05/2001 14:00:00","06/05/2001 08:00:00","06/05/2001 14:00:00","07/05/2001 08:00:00","07/05/2001 14:00:00","08/05/2001 08:00:00","08/05/2001 14:00:00","09/05/2001 08:00:00","09/05/2001 14:00:00"],
    "range": [
     "M0,-1L1,0L0,1L-1,0Z",
     "M-0.85,-0.57L-0.57,-0.85L0,-0.28L0.57,-0.85L0.85,-0.57L0.28,0L0.85,0.57L0.57,0.85L0,0.28L-0.57,0.85L-0.85,0.57L-0.28,0ZM-0.15,-1H0.15V1H-0.15Z",
     "circle",
     "M-0.2,-1H0.2V-0.2H1V0.2H0.2V1H-0.2V0.2H-1V-0.2H-0.2Z",
     "M0,0",
     "M0,0",
     "M0,-1L1,0L0,1L-1,0Z",
     "M-0.8,-0.8H0.8V0.8H-0.8Z",
     "M0,-1L0.95,0.75H-0.95Z",
     "M-0.85,-0.57L-0.57,-0.85L0,-0.28L0.57,-0.85L0.85,-0.57L0.28,0L0.85,0.57L0.57,0.85L0,0.28L-0.57,0.85L-0.85,0.57L-0.28,0Z",
     "M-0.85,-0.57L-0.57,-0.85L0,-0.28L0.57,-0.85L0.85,-0.57L0.28,0L0.85,0.57L0.57,0.85L0,0.28L-0.57,0.85L-0.85,0.57L-0.28,0ZM-0.15,-1H0.15V1H-0.15Z",
     "circle",
     "M-0.2,-1H0.2V-0.2H1V0.2H0.2V1H-0.2V0.2H-1V-0.2H-0.2Z",
     "M0,0",
     "M0,0",
     "M0,-1L1,0L0,1L-1,0Z",
     "M-0.8,-0.8H0.8V0.8H-0.8Z",
     "M0,-1L0.95,0.75H-0.95Z",
     "M-0.85,-0.57L-0.57,-0.85L0,-0.28L0.57,-0.85L0.85,-0.57L0.28,0L0.85,0.57L0.57,0.85L0,0.28L-0.57,0.85L-0.85,0.57L-0.28,0Z",
     "M-0.85,-0.57L-0.57,-0.85L0,-0.28L0.57,-0.85L0.85,-0.57L0.28,0L0.85,0.57L0.57,0.85L0,0.28L-0.57,0.85L-0.85,0.57L-0.28,0ZM-0.15,-1H0.15V1H-0.15Z",
     "circle"]}}
 }},
{"data": {"name": "series"}, "transform": [{"filter": "datum.h < 0"}],
 "mark": {"type": "point", "filled": true, "opacity": 1, "strokeWidth": 1.5},
 "encoding": {
  "fill": {"field": "s", "type": "nominal",
   "legend": {"orient": "none", "legendX": 420, "legendY": 61, "title": null, "labelFont": "Lato", "labelFontSize": 7, "labelColor": "#222", "symbolSize": 196, "rowPadding": 0.8, "padding": 0, "labelOffset": 3, "symbolStrokeWidth": 1.5, "symbolLimit": 50, "labelLimit": 200,
    "labelExpr": "indexof(datum.label, 'Orleans') == 0 ? datum.label : 'Orleans prévu le ' + datum.label"},
   "scale": {"domain": ["Orleans observé","30/04/2001 08:00:00","30/04/2001 14:00:00","01/05/2001 08:00:00","01/05/2001 14:00:00","02/05/2001 08:00:00","02/05/2001 14:00:00","03/05/2001 08:00:00","03/05/2001 14:00:00","04/05/2001 08:00:00","04/05/2001 14:00:00","05/05/2001 08:00:00","05/05/2001 14:00:00","06/05/2001 08:00:00","06/05/2001 14:00:00","07/05/2001 08:00:00","07/05/2001 14:00:00","08/05/2001 08:00:00","08/05/2001 14:00:00","09/05/2001 08:00:00","09/05/2001 14:00:00"],
    "range": ["#2C4D75","#4198AF","#D0712A","#4F81BD","#C0504D","#9BBB59","#8064A2","#4BACC6","#F79646","#4F81BD","#C0504D","#9BBB59","#8064A2","#4BACC6","#F79646","#7E9ECF","#CD7371","#AFC97A","#A18FC2","#7CC4D8","#F9AB6B"]}},
  "stroke": {"field": "s", "type": "nominal",
   "legend": {"orient": "none", "legendX": 420, "legendY": 61, "title": null, "labelFont": "Lato", "labelFontSize": 7, "labelColor": "#222", "symbolSize": 196, "rowPadding": 0.8, "padding": 0, "labelOffset": 3, "symbolStrokeWidth": 1.5, "symbolLimit": 50, "labelLimit": 200,
    "labelExpr": "indexof(datum.label, 'Orleans') == 0 ? datum.label : 'Orleans prévu le ' + datum.label"},
   "scale": {"domain": ["Orleans observé","30/04/2001 08:00:00","30/04/2001 14:00:00","01/05/2001 08:00:00","01/05/2001 14:00:00","02/05/2001 08:00:00","02/05/2001 14:00:00","03/05/2001 08:00:00","03/05/2001 14:00:00","04/05/2001 08:00:00","04/05/2001 14:00:00","05/05/2001 08:00:00","05/05/2001 14:00:00","06/05/2001 08:00:00","06/05/2001 14:00:00","07/05/2001 08:00:00","07/05/2001 14:00:00","08/05/2001 08:00:00","08/05/2001 14:00:00","09/05/2001 08:00:00","09/05/2001 14:00:00"],
    "range": ["#2C4D75","#4198AF","#D0712A","#4F81BD","#C0504D","#9BBB59","#8064A2","#4BACC6","#F79646","#4F81BD","#C0504D","#9BBB59","#8064A2","#4BACC6","#F79646","#7E9ECF","#CD7371","#AFC97A","#A18FC2","#7CC4D8","#F9AB6B"]}},
  "shape": {"field": "s", "type": "nominal",
   "legend": {"orient": "none", "legendX": 420, "legendY": 61, "title": null, "labelFont": "Lato", "labelFontSize": 7, "labelColor": "#222", "symbolSize": 196, "rowPadding": 0.8, "padding": 0, "labelOffset": 3, "symbolStrokeWidth": 1.5, "symbolLimit": 50, "labelLimit": 200,
    "labelExpr": "indexof(datum.label, 'Orleans') == 0 ? datum.label : 'Orleans prévu le ' + datum.label"},
   "scale": {"domain": ["Orleans observé","30/04/2001 08:00:00","30/04/2001 14:00:00","01/05/2001 08:00:00","01/05/2001 14:00:00","02/05/2001 08:00:00","02/05/2001 14:00:00","03/05/2001 08:00:00","03/05/2001 14:00:00","04/05/2001 08:00:00","04/05/2001 14:00:00","05/05/2001 08:00:00","05/05/2001 14:00:00","06/05/2001 08:00:00","06/05/2001 14:00:00","07/05/2001 08:00:00","07/05/2001 14:00:00","08/05/2001 08:00:00","08/05/2001 14:00:00","09/05/2001 08:00:00","09/05/2001 14:00:00"],
    "range": [
     "M-1.25,0H1.25M0,-0.4L0.4,0L0,0.4L-0.4,0Z",
     "M-1.25,0H1.25M-0.3,-0.3L0.3,0.3M-0.3,0.3L0.3,-0.3M0,-0.38V0.38",
     "M-1.25,0H1.25M0.32,0A0.32,0.32,0,1,1,-0.32,0A0.32,0.32,0,1,1,0.32,0Z",
     "M-1.25,0H1.25M0,-0.35V0.35",
     "M-1.25,0H1.25",
     "M-1.25,0H1.25",
     "M-1.25,0H1.25M0,-0.4L0.4,0L0,0.4L-0.4,0Z",
     "M-1.25,0H1.25M-0.3,-0.3H0.3V0.3H-0.3Z",
     "M-1.25,0H1.25M0,-0.38L0.36,0.28H-0.36Z",
     "M-1.25,0H1.25M-0.3,-0.3L0.3,0.3M-0.3,0.3L0.3,-0.3",
     "M-1.25,0H1.25M-0.3,-0.3L0.3,0.3M-0.3,0.3L0.3,-0.3M0,-0.38V0.38",
     "M-1.25,0H1.25M0.32,0A0.32,0.32,0,1,1,-0.32,0A0.32,0.32,0,1,1,0.32,0Z",
     "M-1.25,0H1.25M0,-0.35V0.35",
     "M-1.25,0H1.25",
     "M-1.25,0H1.25",
     "M-1.25,0H1.25M0,-0.4L0.4,0L0,0.4L-0.4,0Z",
     "M-1.25,0H1.25M-0.3,-0.3H0.3V0.3H-0.3Z",
     "M-1.25,0H1.25M0,-0.38L0.36,0.28H-0.36Z",
     "M-1.25,0H1.25M-0.3,-0.3L0.3,0.3M-0.3,0.3L0.3,-0.3",
     "M-1.25,0H1.25M-0.3,-0.3L0.3,0.3M-0.3,0.3L0.3,-0.3M0,-0.38V0.38",
     "M-1.25,0H1.25M0.32,0A0.32,0.32,0,1,1,-0.32,0A0.32,0.32,0,1,1,0.32,0Z"]}}
 }}
]
},
{
"title": {"text": ["Figure 4. Comparaison des débits observés (courbe bleue) et prévus à l'échelle d'Orléans pour les prévisions", "émises à 8 et 14 heures du 30 avril au 9 mai 2008 (avec procédure de traitement des erreurs)."], "font": "Liberation Sans", "fontSize": 12, "fontWeight": "normal", "lineHeight": 16, "offset": 18, "anchor": "middle", "color": "black"},
"spacing": 0,
"hconcat": [
{
"width": 26, "height": 216,
"data": {"name": "gcells"},
"layer": [
 {"mark": {"type": "rect", "fill": "#CCC0DA", "stroke": "black", "strokeWidth": 1},
  "encoding": {
   "y": {"field": "r0", "type": "nominal", "bandPosition": 0, "axis": null,
    "scale": {"domain": ["Délai de prévision","Station XXX","Moyenne (m)","Ecart type (m)","Moyenne en montée (m)","Ecart type en montée (m)","RMSE (m)","RMSE en montée (m)","sep","Moyenne (m3/s)","Ecart type (m3/s)","Moyenne en montée (m3/s)","Ecart type en montée (m3/s)","RMSE (m3/s)","RMSE en montée (m3/s)"], "paddingInner": 0, "paddingOuter": 0}},
   "y2": {"field": "r1", "bandPosition": 1}}},
 {"transform": [{"filter": "datum.g"}],
  "mark": {"type": "text", "angle": 270, "fontWeight": "bold", "fontSize": 9, "font": "Lato", "color": "black", "baseline": "middle", "align": "center"},
  "encoding": {
   "y": {"field": "m", "type": "nominal", "bandPosition": 0, "axis": null},
   "text": {"field": "g"}}}
]
},
{
"width": 142, "height": 216,
"data": {"name": "scells"},
"layer": [
 {"mark": {"type": "rect", "fill": "#CCC0DA", "stroke": "black", "strokeWidth": 1},
  "encoding": {
   "y": {"field": "r", "type": "nominal", "axis": null,
    "scale": {"domain": ["Délai de prévision","Station XXX","Moyenne (m)","Ecart type (m)","Moyenne en montée (m)","Ecart type en montée (m)","RMSE (m)","RMSE en montée (m)","sep","Moyenne (m3/s)","Ecart type (m3/s)","Moyenne en montée (m3/s)","Ecart type en montée (m3/s)","RMSE (m3/s)","RMSE en montée (m3/s)"], "paddingInner": 0, "paddingOuter": 0}}}},
 {"transform": [{"filter": "datum.k == 'head'"}],
  "mark": {"type": "text", "fontWeight": "bold", "fontSize": 8.5, "font": "Lato", "color": "black", "dx": -13},
  "encoding": {"y": {"field": "r", "type": "nominal", "axis": null}, "text": {"field": "r"}}},
 {"transform": [{"filter": "datum.k == 'stat'"}],
  "mark": {"type": "text", "fontSize": 8.5, "font": "Lato", "color": "black"},
  "encoding": {"y": {"field": "r", "type": "nominal", "axis": null}, "text": {"field": "r"}}}
]
},
{
"width": 470, "height": 216,
"layer": [
 {"data": {"name": "delais"},
  "mark": {"type": "rect", "fill": "#CCC0DA", "stroke": "black", "strokeWidth": 1},
  "encoding": {
   "x": {"field": "d", "type": "nominal", "axis": null, "scale": {"domain": ["6h","12h","24h","48h","72h"], "paddingInner": 0, "paddingOuter": 0}},
   "y": {"datum": "Délai de prévision", "type": "nominal", "axis": null,
    "scale": {"domain": ["Délai de prévision","Station XXX","Moyenne (m)","Ecart type (m)","Moyenne en montée (m)","Ecart type en montée (m)","RMSE (m)","RMSE en montée (m)","sep","Moyenne (m3/s)","Ecart type (m3/s)","Moyenne en montée (m3/s)","Ecart type en montée (m3/s)","RMSE (m3/s)","RMSE en montée (m3/s)"], "paddingInner": 0, "paddingOuter": 0}}}},
 {"data": {"name": "delais"},
  "mark": {"type": "text", "fontWeight": "bold", "fontSize": 8.5, "font": "Lato", "color": "black"},
  "encoding": {
   "x": {"field": "d", "type": "nominal", "axis": null},
   "y": {"datum": "Délai de prévision", "type": "nominal", "axis": null},
   "text": {"field": "d"}}},
 {"data": {"name": "ctrs"},
  "mark": {"type": "rect", "fill": "#CCC0DA", "stroke": "black", "strokeWidth": 1},
  "encoding": {
   "x": {"field": "d", "type": "nominal", "axis": null},
   "xOffset": {"field": "c", "type": "nominal", "scale": {"domain": ["S","A"], "paddingInner": 0, "paddingOuter": 0}},
   "y": {"datum": "Station XXX", "type": "nominal", "axis": null}}},
 {"data": {"name": "ctrs"},
  "mark": {"type": "text", "fontWeight": "bold", "fontSize": 8.5, "font": "Lato", "color": "black"},
  "encoding": {
   "x": {"field": "d", "type": "nominal", "axis": null},
   "xOffset": {"field": "c", "type": "nominal"},
   "y": {"datum": "Station XXX", "type": "nominal", "axis": null},
   "text": {"field": "lab"}}},
 {"data": {"name": "vals"},
  "mark": {"type": "rect", "fill": "white", "stroke": "black", "strokeWidth": 0.7},
  "encoding": {
   "x": {"field": "d", "type": "nominal", "axis": null},
   "xOffset": {"field": "c", "type": "nominal"},
   "y": {"field": "r", "type": "nominal", "axis": null}}},
 {"data": {"name": "vals"},
  "mark": {"type": "text", "fontSize": 8.5, "font": "Lato", "color": "black", "align": "right", "dx": 21},
  "encoding": {
   "x": {"field": "d", "type": "nominal", "axis": null},
   "xOffset": {"field": "c", "type": "nominal"},
   "y": {"field": "r", "type": "nominal", "axis": null},
   "text": {"field": "v", "type": "quantitative", "format": ".2f"}}},
 {"data": {"name": "delais"},
  "mark": {"type": "rect", "fill": "#CCC0DA", "stroke": "black", "strokeWidth": 1},
  "encoding": {
   "y": {"datum": "sep", "type": "nominal", "axis": null}}},
 {"data": {"name": "delais"},
  "mark": {"type": "rect", "fill": null, "stroke": "black", "strokeWidth": 1.8},
  "encoding": {
   "x": {"field": "d", "type": "nominal", "axis": null},
   "y": {"datum": "Délai de prévision", "type": "nominal", "axis": null, "bandPosition": 0},
   "y2": {"datum": "RMSE en montée (m)", "bandPosition": 1}}},
 {"data": {"name": "delais"},
  "mark": {"type": "rect", "fill": null, "stroke": "black", "strokeWidth": 1.8},
  "encoding": {
   "x": {"field": "d", "type": "nominal", "axis": null},
   "y": {"datum": "Moyenne (m3/s)", "type": "nominal", "axis": null, "bandPosition": 0},
   "y2": {"datum": "RMSE en montée (m3/s)", "bandPosition": 1}}}
]
}
]
}
]
}
